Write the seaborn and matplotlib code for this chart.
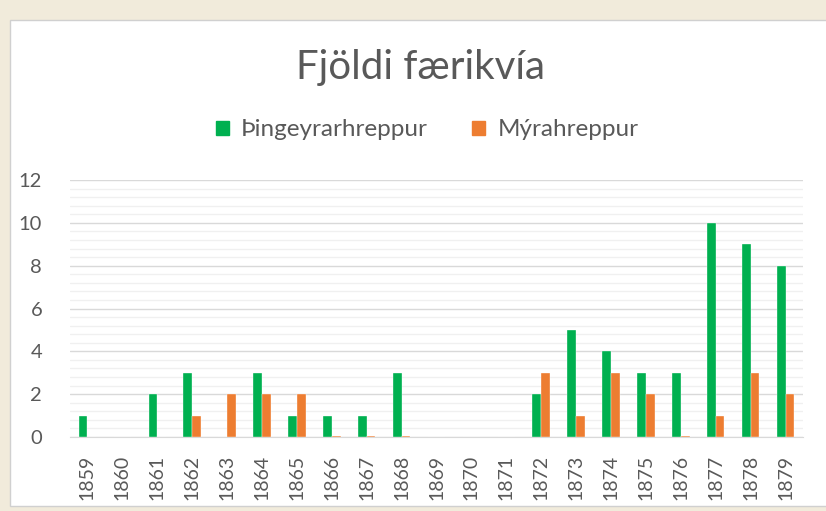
import matplotlib.pyplot as plt
import matplotlib.patches as mpatches
from matplotlib.ticker import MultipleLocator
import seaborn as sns
import pandas as pd

years = [str(y) for y in range(1859, 1880)]
thingeyrar = [1, 0, 2, 3, 0, 3, 1, 1, 1, 3, 0, 0, 0, 2, 5, 4, 3, 3, 10, 9, 8]
myra = [0, 0, 0, 1, 2, 2, 2, 0.07, 0.07, 0.07, 0, 0, 0, 3, 1, 3, 2, 0.07, 1, 3, 2]
series = ['Þingeyrarhreppur', 'Mýrahreppur']
colors = ['#00b050', '#ed7d31']

df = pd.DataFrame({
    'year': years * 2,
    'value': thingeyrar + myra,
    'hrepp': [series[0]] * len(years) + [series[1]] * len(years),
})

sns.set_style('white')
plt.rcParams['font.family'] = ['Lato', 'DejaVu Sans']
txt = '#595959'

fig = plt.figure(figsize=(8.26, 5.11), dpi=100)
fig.patch.set_facecolor('#f1ebdb')
fig.patches.append(mpatches.Rectangle((10 / 826, 1 - 506 / 511), 1, 486 / 511,
                                      transform=fig.transFigure, facecolor='white',
                                      edgecolor='#d0d0d0', linewidth=1, zorder=-10))

ax = fig.add_axes([70 / 826, 1 - 437 / 511, 733 / 826, 257 / 511])
ax.set_zorder(1)
sns.barplot(data=df, x='year', y='value', hue='hrepp', palette=colors, saturation=1,
            width=0.5, edgecolor='white', linewidth=0.25, ax=ax, legend=False, zorder=3)

ax.set_facecolor('none')
ax.set_ylim(0, 12)
ax.set_xlim(-0.5, len(years) - 0.5)
ax.yaxis.set_major_locator(MultipleLocator(2))
ax.yaxis.set_minor_locator(MultipleLocator(0.4))
ax.grid(axis='y', which='major', color='#d9d9d9', linewidth=1, zorder=0)
ax.grid(axis='y', which='minor', color='#f0f0f0', linewidth=1, zorder=0)
ax.set_axisbelow(True)
for s in ['top', 'right', 'left']:
    ax.spines[s].set_visible(False)
ax.spines['bottom'].set_color('#d9d9d9')
ax.tick_params(axis='x', rotation=90, labelsize=14, colors=txt, length=0, pad=13)
ax.tick_params(axis='y', labelsize=14.5, colors=txt, length=0, pad=20)
ax.tick_params(axis='y', which='minor', length=0)
ax.set_xlabel('')
ax.set_ylabel('')

fig.text(0.509, 1 - 68 / 511, 'Fjöldi færikvía', ha='center', va='center',
         fontsize=29, color=txt)
handles = [mpatches.Patch(color=c, label=l) for c, l in zip(colors, series)]
fig.legend(handles=handles, loc='center', bbox_to_anchor=(427 / 826, 1 - 130 / 511),
           ncol=2, frameon=False, fontsize=17.5, labelcolor=txt, handlelength=0.55,
           handleheight=0.55, handletextpad=0.5, columnspacing=1.8)

plt.savefig('out.png', dpi=100, facecolor=fig.get_facecolor())
